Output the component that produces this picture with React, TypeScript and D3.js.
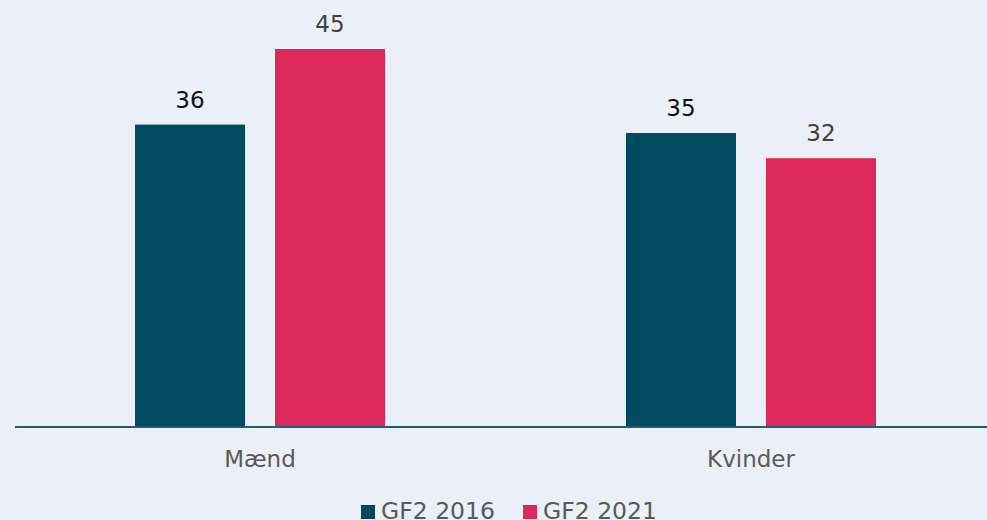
import React from "react";
import * as d3 from "d3";

const categories = ["Mænd", "Kvinder"];
const seriesNames = ["GF2 2016", "GF2 2021"];
const values2016 = [36, 35];
const values2021 = [45, 32];
const seriesColors = ["#004B5F", "#DC285A"];
const labelColors = ["#111111", "#404040"];

const W = 987;
const H = 520;

export default function App() {
  const x = d3.scaleBand<string>().domain(categories).range([14.5, 996.5]);
  const inner = d3.scaleBand<string>().domain(seriesNames).range([0, 250]).paddingInner(30 / 140);
  const y = d3.scaleLinear().domain([0, 50]).range([427, 7]);
  const seriesValues = [values2016, values2021];
  const font = "Verdana, 'DejaVu Sans', sans-serif";

  return (
    <svg width={W} height={H} style={{ position: "absolute", left: 0, top: 0, display: "block" }}>
      <rect x={0} y={0} width={W} height={H} fill="#EBEFF8" />
      {categories.map((c, ci) => {
        const cx = (x(c) as number) + x.bandwidth() / 2;
        const start = cx - 125;
        return (
          <g key={c}>
            {seriesNames.map((s, si) => {
              const v = seriesValues[si][ci];
              const bx = start + (inner(s) as number);
              const bw = inner.bandwidth();
              return (
                <g key={s}>
                  <rect x={bx} y={y(v)} width={bw} height={y(0) - y(v)} fill={seriesColors[si]} />
                  <text
                    x={bx + bw / 2}
                    y={y(v) - 17}
                    textAnchor="middle"
                    fontFamily={font}
                    fontSize={23}
                    fill={labelColors[si]}
                  >
                    {v}
                  </text>
                </g>
              );
            })}
            <text x={cx} y={467} textAnchor="middle" fontFamily={font} fontSize={23} fill="#595959">
              {c}
            </text>
          </g>
        );
      })}
      <line x1={15} x2={987} y1={427} y2={427} stroke="#1F5F78" strokeWidth={2} />
      {seriesNames.map((s, si) => {
        const lx = si === 0 ? 361 : 523;
        return (
          <g key={s}>
            <rect x={lx} y={505} width={14} height={14} fill={seriesColors[si]} />
            <text x={lx + 20} y={518.5} fontFamily={font} fontSize={23.5} fill="#595959">
              {s}
            </text>
          </g>
        );
      })}
    </svg>
  );
}
